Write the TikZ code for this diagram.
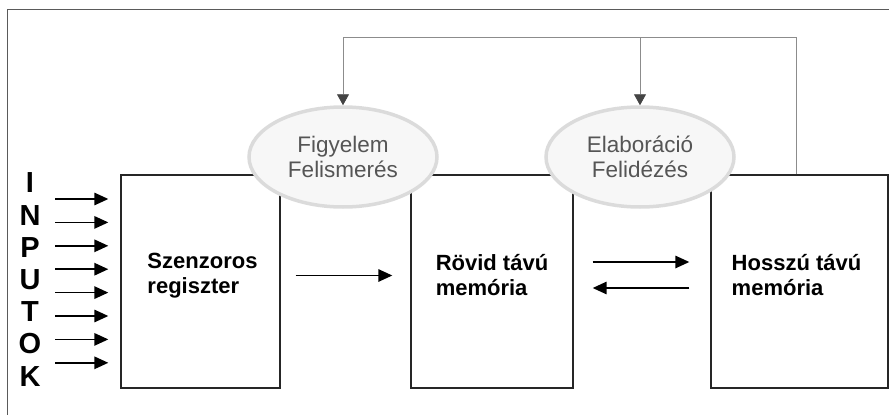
\documentclass[tikz,border=0pt]{standalone}
\usepackage{fontspec}
\setmainfont{Liberation Sans}
\usetikzlibrary{arrows.meta, positioning, shapes.geometric, calc}
\definecolor{framegray}{HTML}{5A5A5A}
\definecolor{fbgray}{HTML}{8C8C8C}
\definecolor{tipgray}{HTML}{444444}
\definecolor{ovaltext}{HTML}{555555}
\tikzset{
  membox/.style={rectangle, draw=black!85, line width=1.4pt, fill=white,
                 minimum width=159pt, minimum height=213pt, inner sep=0pt},
  boxtext/.style={align=left, inner sep=0pt, font=\fontsize{22}{25}\selectfont\bfseries},
  oval/.style={ellipse, draw=gray!28, line width=3.5pt, fill=gray!6,
               minimum width=188pt, minimum height=100pt, inner sep=0pt,
               align=center, text=ovaltext, font=\fontsize{22.5}{25}\selectfont},
  bigarrow/.style={line width=1.5pt, -{Triangle[length=14pt, width=12.5pt]}},
  fbline/.style={fbgray, line width=0.9pt},
  fbarrow/.style={fbline, -{Triangle[length=11pt, width=12pt, fill=tipgray, color=tipgray]}},
  inletter/.style={font=\fontsize{29}{29}\selectfont\bfseries, inner sep=0pt},
}
\begin{document}
\begin{tikzpicture}[x=1pt, y=-1pt]
    \useasboundingbox (0,0) rectangle (889,415);
    %% outer frame (only top and left edges show)
    \coordinate (frTL) at (7,9);
    \draw[framegray, line width=1pt] (frTL |- 0,415) -- (frTL) -- (889,9);
    %% the three memory stores
    \node[membox] (szenz)  at (200.5,281.5) {};
    \node[membox, minimum width=162pt] (rovid)  at (492,281.5) {};
    \node[membox, minimum width=177pt] (hosszu) at (799.5,281.5) {};
    \node[boxtext] (szenzt)  at ($(szenz.center)+(2,-6)$)  {Szenzoros\\regiszter};
    \node[boxtext] (rovidt)  at ($(rovid.center)+(0,-6)$)  {R\"ovid t\'av\'u\\mem\'oria};
    \node[boxtext] (hosszut) at ($(hosszu.center)+(-3,-6)$) {Hossz\'u t\'av\'u\\mem\'oria};
    %% processes on top of the boxes
    \node[oval] (figyel) at (343,157) {Figyelem\\Felismer\'es};
    \node[oval] (elab)   at (640,157) {Elabor\'aci\'o\\Felid\'ez\'es};
    %% feedback from long term memory
    \coordinate (fbtop) at (796,37);
    \draw[fbarrow] ([xshift=-3.5pt]hosszu.north) -- (fbtop) -| (figyel.north);
    \draw[fbarrow] (elab.north |- fbtop) -- (elab.north);
    %% transfer between stores
    \draw[bigarrow] ($(szenz.east)+(15,-6)$) -- ($(rovid.west)+(-18,-6)$);
    \draw[bigarrow] ($(rovid.east)+(19,-19.5)$) -- ($(hosszu.west)+(-21,-19.5)$);
    \draw[bigarrow] ($(hosszu.west)+(-21,6.5)$) -- ($(rovid.east)+(19,6.5)$);
    %% INPUTOK letters and input arrows
    \foreach \ch [count=\k from 0] in {I,N,P,U,T,O,K}
      \node[inletter] (let\k) at (30,183+32.2*\k) {\ch};
    \foreach \k in {0,...,7} {
      \coordinate (in\k s) at (55,199+23.4*\k);
      \coordinate (in\k e) at ($(szenz.west |- in\k s)+(-12,0)$);
      \draw[bigarrow] (in\k s) -- (in\k e);
    }
  \end{tikzpicture}
\end{document}
